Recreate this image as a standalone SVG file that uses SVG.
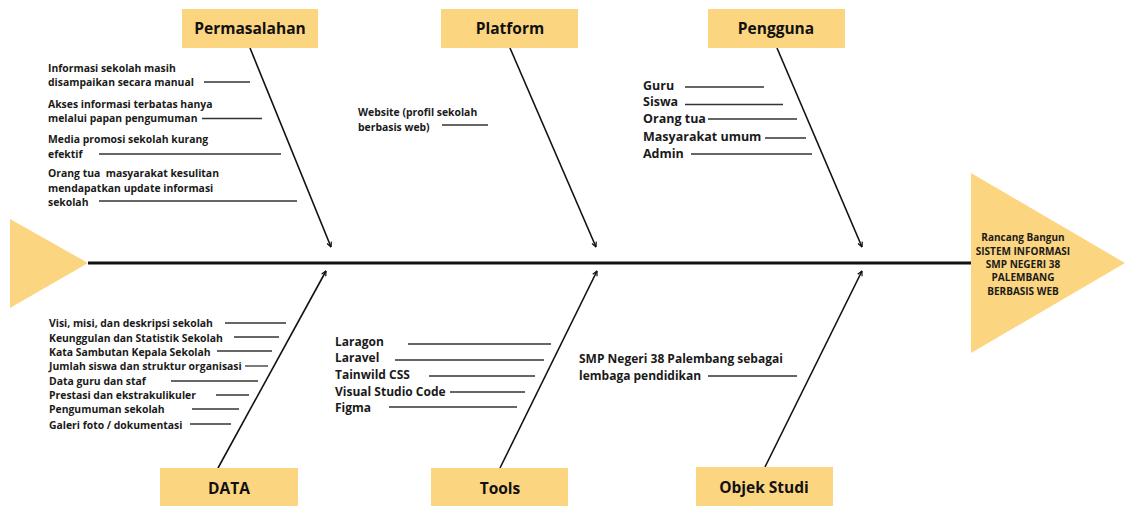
<svg xmlns="http://www.w3.org/2000/svg" width="1125" height="506" viewBox="0 0 1125 506">
<style>
.box{fill:#FCD580;}
.hd{font-family:"Open Sans","Liberation Sans",sans-serif;font-weight:700;font-size:15.5px;fill:#111;text-anchor:middle;}
.s{font-family:"Open Sans","Liberation Sans",sans-serif;font-weight:700;font-size:10.4px;fill:#1a1a1a;}
.m{font-family:"Open Sans","Liberation Sans",sans-serif;font-weight:700;font-size:12px;fill:#1a1a1a;}
.l{font-family:"Open Sans","Liberation Sans",sans-serif;font-weight:700;font-size:12.5px;fill:#1a1a1a;}
.t{font-family:"Open Sans","Liberation Sans",sans-serif;font-weight:700;font-size:10px;fill:#1a1a1a;text-anchor:middle;}
.br{stroke:#333;stroke-width:1.3;fill:none;}
.ar{stroke:#111;stroke-width:1.6;fill:none;marker-end:url(#ah);}
</style>
<defs>
<marker id="ah" viewBox="0 0 10 10" refX="9" refY="5" markerWidth="6" markerHeight="6" orient="auto" markerUnits="userSpaceOnUse">
<path d="M1,1 L9,5 L1,9" fill="none" stroke="#111" stroke-width="2"/>
</marker>
</defs>
<rect width="1125" height="506" fill="#fff"/>

<g id="head-left"><polygon points="10,219 10,308 88,263" fill="#FCD580"/></g>
<g id="head-right">
<polygon points="971,173 971,353 1125,263" fill="#FCD580"/>
<text class="t" x="1023" y="241" font-weight="600">Rancang Bangun</text>
<text class="t" x="1023" y="255">SISTEM INFORMASI</text>
<text class="t" x="1023" y="268">SMP NEGERI 38</text>
<text class="t" x="1023" y="281">PALEMBANG</text>
<text class="t" x="1023" y="295">BERBASIS WEB</text>
</g>

<g id="connectors">
<line x1="88" y1="263" x2="971" y2="263" stroke="#111" stroke-width="3"/>
<line class="ar" x1="250" y1="48" x2="331" y2="247"/>
<line class="ar" x1="510" y1="48" x2="596" y2="247"/>
<line class="ar" x1="777" y1="48" x2="862" y2="247"/>
<line class="ar" x1="218" y1="468" x2="326" y2="271"/>
<line class="ar" x1="500" y1="468" x2="597" y2="271"/>
<line class="ar" x1="765" y1="467" x2="862" y2="271"/>
</g>

<g id="permasalahan">
<rect class="box" x="182" y="9" width="136" height="39"/>
<text class="hd" x="250" y="34">Permasalahan</text>
<text class="s" x="48" y="72">Informasi sekolah masih</text>
<text class="s" x="48" y="86">disampaikan secara manual</text>
<line class="br" x1="204" y1="82" x2="250" y2="82"/>
<text class="s" x="48" y="108">Akses informasi terbatas hanya</text>
<text class="s" x="48" y="122">melalui papan pengumuman</text>
<line class="br" x1="202" y1="118.5" x2="262" y2="118.5"/>
<text class="s" x="48" y="143">Media promosi sekolah kurang</text>
<text class="s" x="48" y="158">efektif</text>
<line class="br" x1="99" y1="154" x2="281" y2="154"/>
<text class="s" x="48" y="177" xml:space="preserve">Orang tua  masyarakat kesulitan</text>
<text class="s" x="48" y="192">mendapatkan update informasi</text>
<text class="s" x="48" y="206">sekolah</text>
<line class="br" x1="99" y1="201" x2="297" y2="201"/>
</g>

<g id="platform">
<rect class="box" x="441" y="9" width="137" height="39"/>
<text class="hd" x="510" y="34">Platform</text>
<text class="s" x="358" y="116">Website (profil sekolah</text>
<text class="s" x="358" y="131">berbasis web)</text>
<line class="br" x1="442" y1="125" x2="488" y2="125"/>
</g>

<g id="pengguna">
<rect class="box" x="708" y="9" width="137" height="39"/>
<text class="hd" x="776" y="34">Pengguna</text>
<text class="l" x="643" y="90">Guru</text>
<line class="br" x1="685" y1="87" x2="764" y2="87"/>
<text class="l" x="643" y="106">Siswa</text>
<line class="br" x1="685" y1="104.5" x2="783" y2="104.5"/>
<text class="l" x="643" y="123">Orang tua</text>
<line class="br" x1="708" y1="119" x2="797" y2="119"/>
<text class="l" x="643" y="141">Masyarakat umum</text>
<line class="br" x1="765" y1="138" x2="806" y2="138"/>
<text class="l" x="643" y="158">Admin</text>
<line class="br" x1="691" y1="154" x2="812" y2="154"/>
</g>

<g id="data">
<rect class="box" x="160" y="468" width="138" height="38"/>
<text class="hd" x="229" y="494">DATA</text>
<text class="s" x="49" y="326.5">Visi, misi, dan deskripsi sekolah</text>
<line class="br" x1="225" y1="323" x2="286" y2="323"/>
<text class="s" x="49" y="341.5">Keunggulan dan Statistik Sekolah</text>
<line class="br" x1="234" y1="337" x2="279" y2="337"/>
<text class="s" x="49" y="355.5">Kata Sambutan Kepala Sekolah</text>
<line class="br" x1="217" y1="351" x2="272" y2="351"/>
<text class="s" x="49" y="369.5">Jumlah siswa dan struktur organisasi</text>
<line class="br" x1="245" y1="366" x2="268" y2="366"/>
<text class="s" x="49" y="384.5">Data guru dan staf</text>
<line class="br" x1="171" y1="381" x2="258" y2="381"/>
<text class="s" x="49" y="398.5">Prestasi dan ekstrakulikuler</text>
<line class="br" x1="216" y1="395" x2="249" y2="395"/>
<text class="s" x="49" y="412.5">Pengumuman sekolah</text>
<line class="br" x1="192" y1="409" x2="239" y2="409"/>
<text class="s" x="49" y="428.5">Galeri foto / dokumentasi</text>
<line class="br" x1="190" y1="424" x2="231" y2="424"/>
</g>

<g id="tools">
<rect class="box" x="431" y="468" width="137" height="38"/>
<text class="hd" x="500" y="494">Tools</text>
<text class="m" x="335" y="346">Laragon</text>
<line class="br" x1="408" y1="344" x2="551" y2="344"/>
<text class="m" x="335" y="362">Laravel</text>
<line class="br" x1="395" y1="360" x2="544" y2="360"/>
<text class="m" x="335" y="379">Tainwild CSS</text>
<line class="br" x1="429" y1="376" x2="535" y2="376"/>
<text class="m" x="335" y="396">Visual Studio Code</text>
<line class="br" x1="450" y1="392" x2="525" y2="392"/>
<text class="m" x="335" y="412">Figma</text>
<line class="br" x1="389" y1="407" x2="517" y2="407"/>
</g>

<g id="objek-studi">
<rect class="box" x="696" y="467" width="137" height="39"/>
<text class="hd" x="764" y="493">Objek Studi</text>
<text class="m" x="579" y="363">SMP Negeri 38 Palembang sebagai</text>
<text class="m" x="579" y="380">lembaga pendidikan</text>
<line class="br" x1="708" y1="376" x2="797" y2="376"/>
</g>
</svg>
